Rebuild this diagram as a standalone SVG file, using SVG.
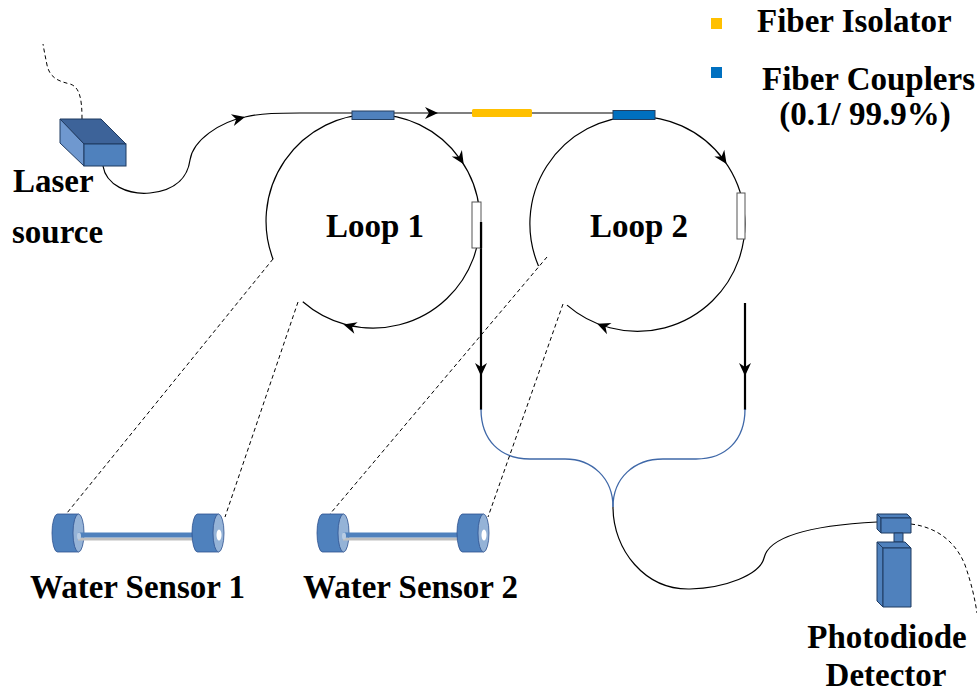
<svg xmlns="http://www.w3.org/2000/svg" width="977" height="694" viewBox="0 0 977 694">
  <style>
    .lbl { font-family: "Liberation Serif", "Times New Roman", serif; font-weight: bold; font-size: 33px; fill: #000; }
    .fiber { fill: none; stroke: #000; stroke-width: 1.2; }
    .thick { fill: none; stroke: #000; stroke-width: 2.2; }
    .blue { fill: none; stroke: #3f68a8; stroke-width: 1.3; }
    .dash { fill: none; stroke: #000; stroke-width: 1; stroke-dasharray: 4 3; }
    .tap { fill: #fff; stroke: #555; stroke-width: 1; }
    .dev { fill: #4f81bd; stroke: #1f3a60; stroke-width: 1; stroke-linejoin: round; }
  </style>
  <defs>
    <!-- arrowhead pointing along +x, tip at origin -->
    <path id="ah" d="M0,0 L-13,-6 L-9,0 L-13,6 Z" fill="#000"/>
    <!-- collimator pair with the water cell rod between them -->
    <g id="cell">
      <path d="M57.5,514 L78.5,514 L78.5,552 L57.5,552 A5.5,19 0 0 1 57.5,514 Z" fill="#4f81bd" stroke="#2f528f" stroke-width="0.8"/>
      <ellipse cx="78.5" cy="533" rx="5.5" ry="19" fill="#95b3d7" stroke="#2f528f" stroke-width="0.8"/>
      <rect x="78" y="537.5" width="116" height="3" fill="#bfbfbf"/>
      <rect x="78" y="532.5" width="116" height="5" fill="#4f81bd"/>
      <ellipse cx="79" cy="536" rx="2" ry="3.5" fill="#b8cce4"/>
      <path d="M197.5,514 L218.5,514 L218.5,552 L197.5,552 A5.5,19 0 0 1 197.5,514 Z" fill="#4f81bd" stroke="#2f528f" stroke-width="0.8"/>
      <ellipse cx="218.5" cy="533" rx="5.5" ry="19" fill="#95b3d7" stroke="#2f528f" stroke-width="0.8"/>
      <ellipse cx="219" cy="535" rx="2.5" ry="5.5" fill="#fff"/>
    </g>
  </defs>

  <!-- fibre connectors -->
  <g id="connectors">
    <!-- laser to first coupler and on to second coupler -->
    <path class="fiber" d="M103,166 C106,185 128,195 150,193 C178,190 188,175 190,160 C193,140 220,122 245,117 C262,113 280,113 300,113 L613,113"/>
    <!-- loop 1 ring -->
    <path class="fiber" d="M273.1,259.3 A107,107 0 1 1 302.8,301.8"/>
    <!-- loop 2 ring -->
    <path class="fiber" d="M538.5,266 A107.5,107.5 0 1 1 567,305.1"/>
    <!-- outputs of the two loops -->
    <path class="thick" d="M481,222 L481,410"/>
    <path class="thick" d="M745,303 L745,410"/>
    <!-- combiner -->
    <path class="blue" d="M481,409 C481,440 500,459 530,459 L565,459 C592,459 613,478 613,507"/>
    <path class="blue" d="M745,409 C745,440 726,459 696,459 L663,459 C634,459 613,478 613,507"/>
    <!-- to the detector -->
    <path class="fiber" d="M613,507 C613,550 645,590 690,589 C725,588 760,575 764,558 C768,540 800,526 877,522"/>
    <!-- power / signal leads -->
    <path class="dash" d="M82,119 C82,100 80,87 70,84 C58,81 50,78 47,65 C45,55 44,50 43,44"/>
    <path class="dash" d="M911,524 C935,527 955,540 965,565 C972,585 975,600 977,613"/>
    <!-- sensor leads -->
    <path class="dash" d="M273,259 L67,513"/>
    <path class="dash" d="M298,302 L225,517"/>
    <path class="dash" d="M547,257 L330,514"/>
    <path class="dash" d="M563,304 L488,517"/>
    <!-- direction arrows -->
    <use href="#ah" transform="translate(245,117) rotate(-14)"/>
    <use href="#ah" transform="translate(438,113)"/>
    <use href="#ah" transform="translate(463.7,164.3) rotate(58)"/>
    <use href="#ah" transform="translate(343.5,324.5) rotate(196)"/>
    <use href="#ah" transform="translate(726.6,163.9) rotate(56)"/>
    <use href="#ah" transform="translate(597.2,323.7) rotate(202)"/>
    <use href="#ah" transform="translate(481,376) rotate(90)"/>
    <use href="#ah" transform="translate(745,376) rotate(90)"/>
  </g>

  <!-- laser source -->
  <g id="laser">
    <polygon points="60,119 101,119 126,144 84,144" fill="#3d6399" stroke="#1f3a60" stroke-width="1"/>
    <polygon points="60,119 84,144 84,166 60,143" fill="#6f98cf" stroke="#1f3a60" stroke-width="1"/>
    <rect x="84" y="144" width="42" height="22" fill="#4f81bd" stroke="#1f3a60" stroke-width="1"/>
    <text class="lbl" x="13" y="192">Laser</text>
    <text class="lbl" x="12" y="243">source</text>
  </g>

  <!-- couplers and isolator -->
  <g id="coupler1">
    <rect x="352" y="111" width="42" height="8.5" fill="#4f81bd" stroke="#243f60" stroke-width="1"/>
  </g>
  <g id="isolator">
    <rect x="472" y="109" width="60" height="8" rx="1.5" fill="#ffc000"/>
  </g>
  <g id="coupler2">
    <rect x="613" y="110.5" width="42" height="9" fill="#0070c0" stroke="#243f60" stroke-width="1"/>
  </g>

  <!-- loop 1 with its tap -->
  <g id="loop1">
    <rect class="tap" x="472" y="202" width="9" height="46"/>
    <path class="thick" d="M481,222 L481,248"/>
    <text class="lbl" x="326" y="237">Loop 1</text>
  </g>

  <!-- loop 2 with its tap -->
  <g id="loop2">
    <rect class="tap" x="737" y="193" width="8" height="46"/>
    <text class="lbl" x="590" y="237">Loop 2</text>
  </g>

  <!-- water sensors -->
  <g id="sensor1">
    <use href="#cell"/>
    <text class="lbl" x="30" y="598">Water Sensor 1</text>
  </g>
  <g id="sensor2">
    <use href="#cell" transform="translate(265,0)"/>
    <text class="lbl" x="303" y="598">Water Sensor 2</text>
  </g>

  <!-- photodiode detector -->
  <g id="detector">
    <polygon class="dev" points="877,514 907,514 911,518 881,518"/>
    <polygon class="dev" points="877,514 881,518 881,533 877,529"/>
    <rect class="dev" x="881" y="518" width="30" height="15"/>
    <rect class="dev" x="894" y="533" width="9" height="9"/>
    <polygon class="dev" points="877,542 905,542 911,548 883,548"/>
    <polygon class="dev" points="877,542 883,548 883,607 877,601"/>
    <rect class="dev" x="883" y="548" width="28" height="59"/>
    <text class="lbl" x="887" y="648" text-anchor="middle">Photodiode</text>
    <text class="lbl" x="886" y="686" text-anchor="middle">Detector</text>
  </g>

  <!-- legend -->
  <g id="legend">
    <rect x="711" y="18" width="11" height="11" fill="#ffc000"/>
    <text class="lbl" x="757" y="32">Fiber Isolator</text>
    <rect x="711" y="67" width="11" height="11" fill="#0070c0"/>
    <text class="lbl" x="762" y="90">Fiber Couplers</text>
    <text class="lbl" x="865" y="125" text-anchor="middle">(0.1/ 99.9%)</text>
  </g>
</svg>
